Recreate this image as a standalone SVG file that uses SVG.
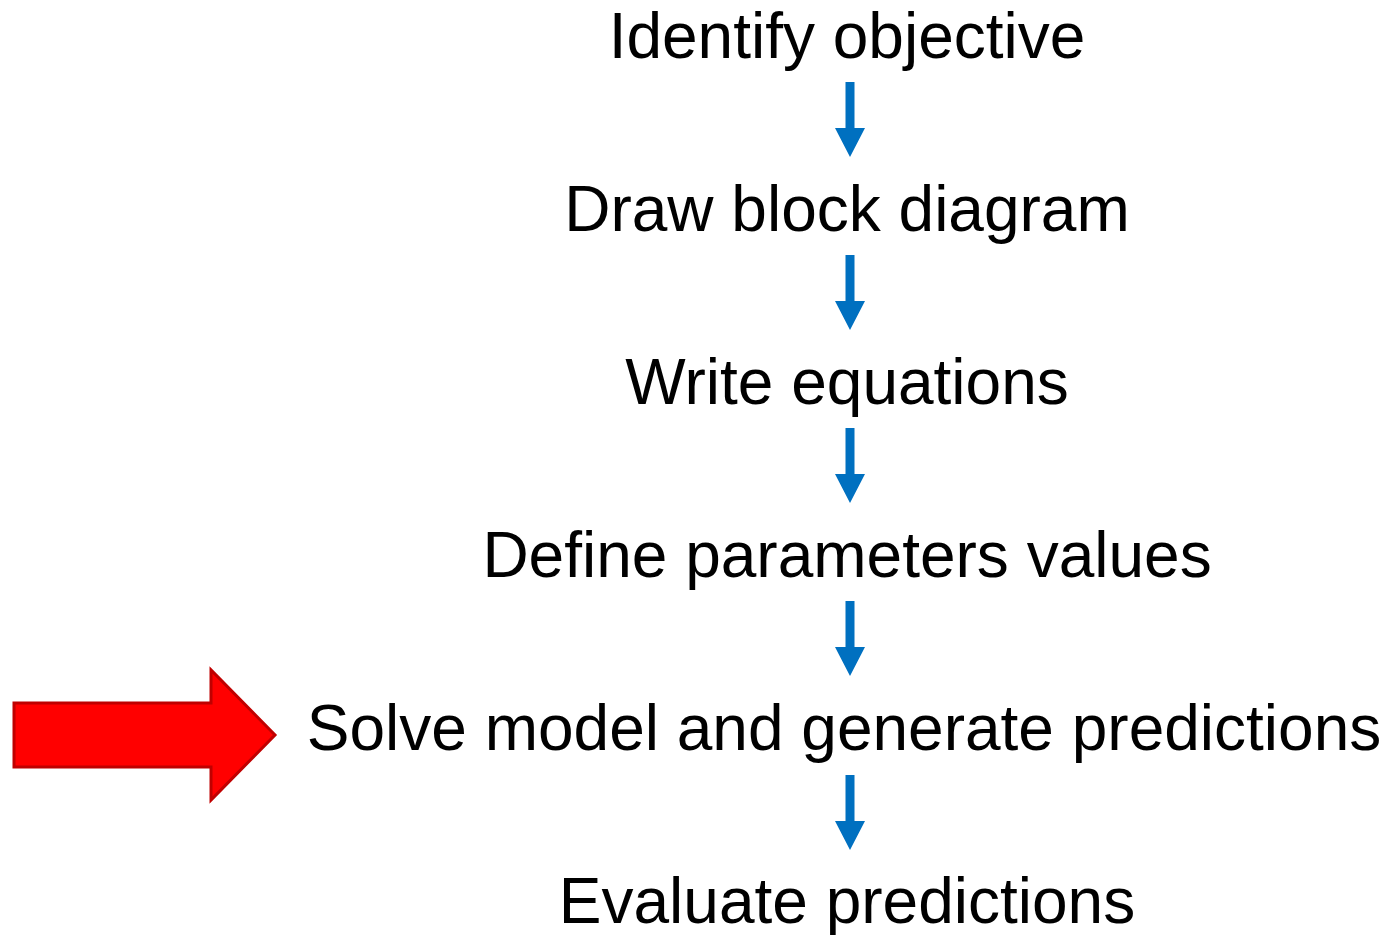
<svg xmlns="http://www.w3.org/2000/svg" width="1390" height="935" viewBox="0 0 1390 935">
  <defs>
    <style>
      .step { font-family: "Liberation Sans", Arial, sans-serif; font-size: 64px; fill: #000; text-anchor: middle; }
      .flow { fill: #0070c0; stroke: none; }
      .pointer { fill: #ff0000; stroke: #c00000; stroke-width: 3; stroke-linejoin: miter; }
    </style>
    <!-- downward block arrow, origin at the top centre of the shaft -->
    <path id="down" d="M-4.5,0 H4.5 V46 H15 L0,75 L-15,46 H-4.5 Z"/>
  </defs>
  <rect width="1390" height="935" fill="#ffffff"/>

  <g id="step-identify"><text class="step" x="847" y="58">Identify objective</text></g>
  <g id="step-draw"><text class="step" x="847" y="231">Draw block diagram</text></g>
  <g id="step-write"><text class="step" x="847" y="404">Write equations</text></g>
  <g id="step-define"><text class="step" x="847" y="577">Define parameters values</text></g>
  <g id="step-solve"><text class="step" x="844" y="750">Solve model and generate predictions</text></g>
  <g id="step-evaluate"><text class="step" x="847" y="923">Evaluate predictions</text></g>

  <g id="connectors">
    <use href="#down" class="flow" x="850" y="82"/>
    <use href="#down" class="flow" x="850" y="255"/>
    <use href="#down" class="flow" x="850" y="428"/>
    <use href="#down" class="flow" x="850" y="601"/>
    <use href="#down" class="flow" x="850" y="775"/>
  </g>

  <g id="current-step-marker">
    <path class="pointer" d="M14,703 H211 V670 L275,735 L211,800 V767 H14 Z"/>
  </g>
</svg>
